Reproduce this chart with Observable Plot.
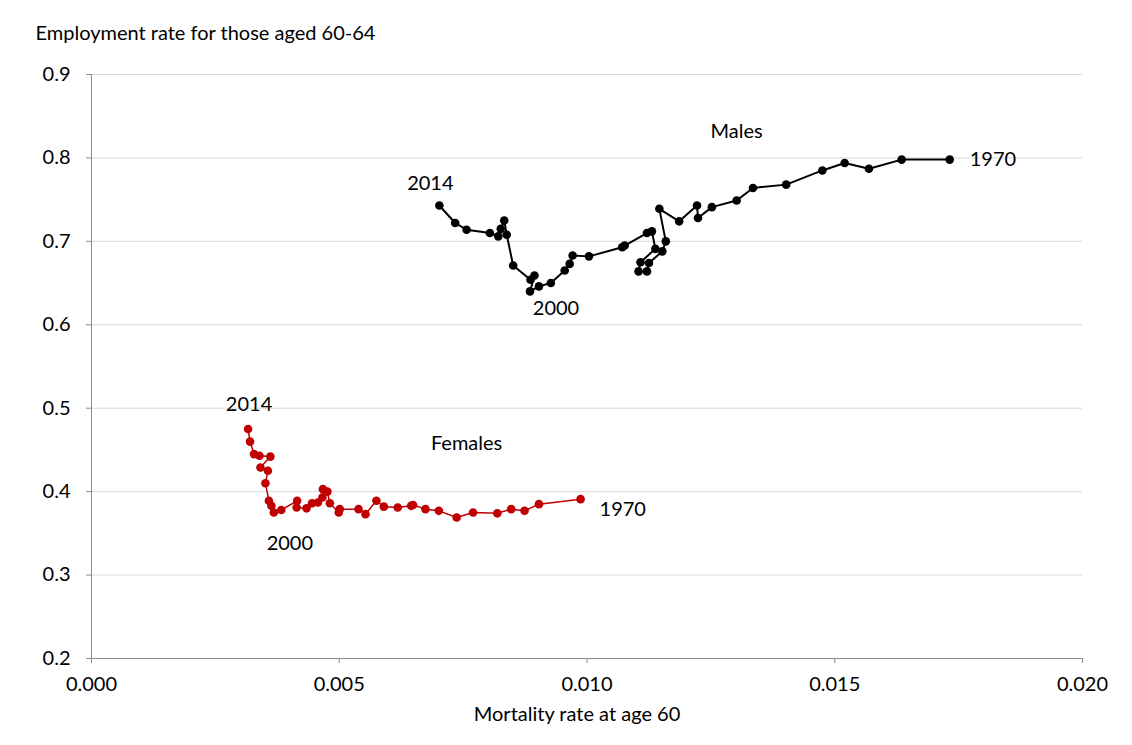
<!DOCTYPE html>
<html>
<head>
<meta charset="utf-8">
<script src="https://cdn.jsdelivr.net/npm/d3@7"></script>
<script src="https://cdn.jsdelivr.net/npm/@observablehq/plot@0.6"></script>
<style>
  body { margin: 0; background: #fff; }
  #chart svg { font-family: Lato, "Open Sans", sans-serif; }
</style>
</head>
<body>
<div id="chart"></div>
<script>
// Males, 1970 -> 2014 (mortality rate at age 60, employment rate 60-64)
const maleMortality = [0.01732, 0.01635, 0.01569, 0.01520, 0.01475, 0.01402, 0.01335, 0.01302, 0.01252, 0.01224,
  0.01222, 0.01186, 0.01146, 0.01159, 0.01152, 0.01125, 0.01121, 0.01104, 0.01108, 0.01138,
  0.01131, 0.01121, 0.01076, 0.01071, 0.01004, 0.00971, 0.00965, 0.00955, 0.00927, 0.00903,
  0.00885, 0.00894, 0.00886, 0.00851, 0.00838, 0.00833, 0.00826, 0.00821, 0.00804, 0.00757,
  0.00734, 0.00702];
const maleEmployment = [0.798, 0.798, 0.787, 0.794, 0.785, 0.768, 0.764, 0.749, 0.741, 0.728,
  0.743, 0.724, 0.739, 0.700, 0.688, 0.674, 0.664, 0.664, 0.675, 0.691,
  0.712, 0.710, 0.695, 0.693, 0.682, 0.683, 0.673, 0.665, 0.650, 0.646,
  0.640, 0.659, 0.654, 0.671, 0.708, 0.725, 0.715, 0.706, 0.710, 0.714,
  0.722, 0.743];

// Females, 1970 -> 2014
const femaleMortality = [0.00987, 0.00903, 0.00874, 0.00847, 0.00819, 0.00770, 0.00737, 0.00701, 0.00674, 0.00649,
  0.00645, 0.00618, 0.00590, 0.00575, 0.00553, 0.00539, 0.00501, 0.00499, 0.00481, 0.00476,
  0.00467, 0.00466, 0.00457, 0.00445, 0.00434, 0.00414, 0.00415, 0.00383, 0.00368, 0.00363,
  0.00358, 0.00351, 0.00356, 0.00341, 0.00361, 0.00339, 0.00328, 0.00320, 0.00316];
const femaleEmployment = [0.391, 0.385, 0.377, 0.379, 0.374, 0.375, 0.369, 0.377, 0.379, 0.384,
  0.383, 0.381, 0.382, 0.389, 0.373, 0.379, 0.379, 0.375, 0.386, 0.400,
  0.403, 0.393, 0.387, 0.386, 0.380, 0.381, 0.389, 0.378, 0.375, 0.383,
  0.389, 0.410, 0.425, 0.429, 0.442, 0.443, 0.445, 0.460, 0.475];

const xTicks = [0, 0.005, 0.010, 0.015, 0.020];
const yTicks = [0.2, 0.3, 0.4, 0.5, 0.6, 0.7, 0.8, 0.9];

const seriesLabels = [
  {text: "Males", x: 0.01302, y: 0.832},
  {text: "Females", x: 0.00757, y: 0.458}
];

const males = maleMortality.map((x, i) => ({x, y: maleEmployment[i]}));
const females = femaleMortality.map((x, i) => ({x, y: femaleEmployment[i]}));

const m1970 = males[0], m2000 = males[30], m2014 = males[males.length - 1];
const f1970 = females[0], f2000 = females[28], f2014 = females[females.length - 1];

const axisGray = "#8c8c8c";
const red = "#c00000";
const fs = 20;

const chart = Plot.plot({
  width: 1132,
  height: 745,
  marginLeft: 91,
  marginRight: 50,
  marginTop: 74,
  marginBottom: 87,
  style: {fontSize: fs + "px", color: "#000", background: "#fff"},
  x: {domain: [0, 0.02]},
  y: {domain: [0.2, 0.9]},
  marks: [
    Plot.ruleY(yTicks.slice(1), {stroke: "#d9d9d9", strokeWidth: 1}),
    Plot.ruleY([0.2], {stroke: axisGray}),
    Plot.ruleX([0], {stroke: axisGray}),
    Plot.axisX({ticks: xTicks, tickFormat: d3.format(".3f"), tickSize: 5, tickPadding: 13, stroke: axisGray, label: null, fill: "#000", fontSize: fs}),
    Plot.axisY({ticks: yTicks, tickFormat: d3.format(".1f"), tickSize: 5, tickPadding: 16, stroke: axisGray, label: null, fill: "#000", fontSize: fs}),
    Plot.line(females, {x: "x", y: "y", stroke: red, strokeWidth: 1.5}),
    Plot.dot(females, {x: "x", y: "y", r: 4.3, fill: red, stroke: "none"}),
    Plot.line(males, {x: "x", y: "y", stroke: "#000", strokeWidth: 2}),
    Plot.dot(males, {x: "x", y: "y", r: 4.3, fill: "#000", stroke: "none"}),
    Plot.text(seriesLabels, {x: "x", y: "y", text: "text", fontSize: fs}),
    Plot.text([m2014], {x: "x", y: "y", text: () => "2014", dx: -9, dy: -22, fontSize: fs}),
    Plot.text([m2000], {x: "x", y: "y", text: () => "2000", dx: 26, dy: 17, fontSize: fs}),
    Plot.text([m1970], {x: "x", y: "y", text: () => "1970", dx: 20, dy: 0, textAnchor: "start", fontSize: fs}),
    Plot.text([f2014], {x: "x", y: "y", text: () => "2014", dx: 1, dy: -24, fontSize: fs}),
    Plot.text([f2000], {x: "x", y: "y", text: () => "2000", dx: 16, dy: 31, fontSize: fs}),
    Plot.text([f1970], {x: "x", y: "y", text: () => "1970", dx: 19, dy: 10, textAnchor: "start", fontSize: fs}),
    Plot.text(["Employment rate for those aged 60-64"], {frameAnchor: "top-left", dx: -56, dy: -49, textAnchor: "start", fontSize: fs}),
    Plot.text(["Mortality rate at age 60"], {frameAnchor: "bottom", dx: -10, dy: 62, fontSize: fs})
  ]
});
document.getElementById("chart").appendChild(chart);
</script>
</body>
</html>
